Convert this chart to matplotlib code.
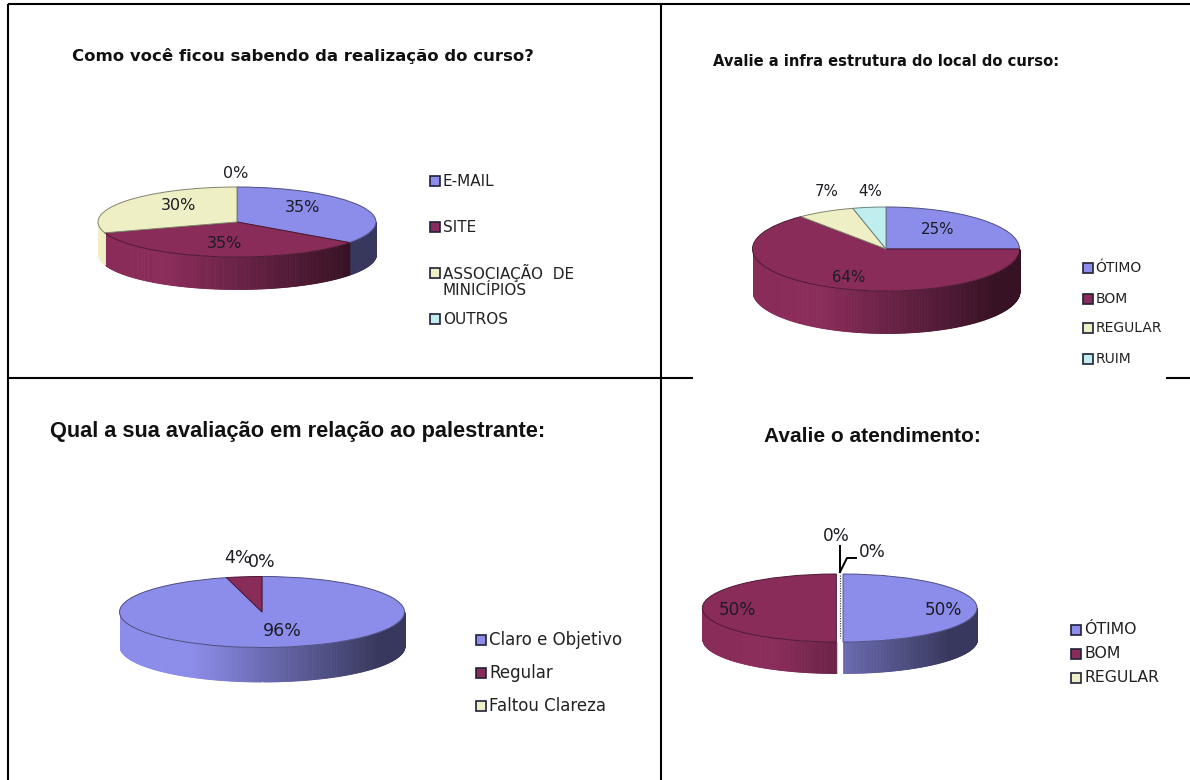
import numpy as np
import matplotlib
matplotlib.use("Agg")
import matplotlib.pyplot as plt
from matplotlib.colors import to_rgb

W, H = 1190, 780

# ---- data ----
titles = ["Como você ficou sabendo da realização do curso?",
          "Avalie a infra estrutura do local do curso:",
          "Qual a sua avaliação em relação ao palestrante:",
          "Avalie o atendimento:"]
values_curso = [35, 35, 30, 0]
values_infra = [25, 64, 7, 4]
values_palestrante = [96, 4, 0]
values_atendimento = [50, 50, 0, 0]
legend_curso = ["E-MAIL", "SITE", "ASSOCIAÇÃO  DE\nMINICÍPIOS", "OUTROS"]
legend_infra = ["ÓTIMO", "BOM", "REGULAR", "RUIM"]
legend_palestrante = ["Claro e Objetivo", "Regular", "Faltou Clareza"]
legend_atendimento = ["ÓTIMO", "BOM", "REGULAR"]

# ---- style / layout (pixels) ----
colors = ["#8C8CEA", "#8A2C5A", "#EFEFC6", "#C0EEEE"]
panels = [
    dict(values=values_curso, legend=legend_curso, cx=237, cy=222, rx=139, ry=35, depth=32, explode=0,
         title=(72, 56, "DejaVu Sans", 11.85),
         labels=[(303, 207), (224, 243), (179, 206), (236, 173)], label_fs=11.5,
         leg_x=435, leg_y=[181, 227, 273, 319], leg_fs=11, leg_ms=7),
    dict(values=values_infra, legend=legend_infra, cx=886, cy=249, rx=133.5, ry=42, depth=42, explode=0,
         title=(713, 62, "DejaVu Sans", 10.6),
         labels=[(938, 229), (849, 277), (827, 192), (870, 192)], label_fs=10.8,
         leg_x=1087.5, leg_y=[268, 299, 328, 359], leg_fs=10, leg_ms=7),
    dict(values=values_palestrante, legend=legend_palestrante, cx=262, cy=612, rx=142.5, ry=35.5, depth=34, explode=0,
         title=(50, 432, "Liberation Sans", 15.7),
         labels=[(282, 631), (238, 558), (262, 562)], label_fs=12.5,
         leg_x=481, leg_y=[640, 673, 706], leg_fs=12, leg_ms=7.5),
    dict(values=values_atendimento, legend=legend_atendimento, cx=839.7, cy=608, rx=134, ry=34, depth=31, explode=0.025,
         title=(764, 436, "Liberation Sans", 15),
         labels=[(943, 610), (737, 610), (836, 536), (872, 552)], label_fs=12.2,
         leg_x=1076, leg_y=[630, 654, 678], leg_fs=11.3, leg_ms=7.5),
]

fig = plt.figure(figsize=(W / 100, H / 100), dpi=100, facecolor="white")


def shade(x):
    """Brightness of the side wall at horizontal position x in -1..1."""
    return float(np.clip(1 - (x + 0.5) / 1.3 * 0.6, 0.4, 1))


def draw_pie(p):
    d = p["depth"] / p["ry"]
    ex = p["explode"]
    rx_full = p["rx"] * (1 + ex)
    left = p["cx"] - rx_full
    bottom = H - (p["cy"] + p["ry"] + p["depth"])
    ax = fig.add_axes([left / W, bottom / H, 2 * rx_full / W, (2 * p["ry"] + p["depth"]) / H])
    vals = p["values"]
    explode = [ex if v > 0 else 0 for v in vals]
    wedges, _ = ax.pie(vals, startangle=90, counterclock=False, colors=colors[:len(vals)],
                       explode=explode, normalize=True,
                       wedgeprops=dict(linewidth=0.7))
    for w, v, c in zip(wedges, vals, colors):
        w.set_zorder(5)
        w.set_edgecolor(tuple(k * 0.55 for k in to_rgb(c)))
        if v == 0:
            w.set_visible(False)
    # side wall, from the same slice angles
    total = sum(vals)
    start = 0.0
    for v, c in zip(vals, colors):
        end = start + 360.0 * v / total
        a0, a1 = max(start, 90), min(end, 270)
        if v > 0 and a1 > a0:
            mid = np.radians((start + end) / 2)
            off = ex * np.sin(mid)
            ang = np.radians(np.linspace(a0, a1, max(int((a1 - a0) * 1.5), 2)))
            rgb = np.array(to_rgb(c))
            for t0, t1 in zip(ang[:-1], ang[1:]):
                xs = np.array([np.sin(t0), np.sin(t1)]) + off
                ys = np.array([np.cos(t0), np.cos(t1)])
                col = tuple(rgb * shade(xs.mean()))
                ax.fill_between(xs, ys, ys - d, color=col, linewidth=0.6, antialiased=False, zorder=2)
        start = end
    ax.set_aspect("auto")
    ax.set_xlim(-1 - ex, 1 + ex)
    ax.set_ylim(-1 - d, 1)
    ax.axis("off")


for p in panels:
    draw_pie(p)

# overlay in pixel coordinates for frame, text and legend keys
ov = fig.add_axes([0, 0, 1, 1], zorder=10)
ov.set_xlim(0, W)
ov.set_ylim(H, 0)
ov.axis("off")
ov.patch.set_alpha(0)

for xs, ys in [((7.5, 7.5), (4, H)), ((7.5, W), (4, 4)), ((661, 661), (4, H)),
               ((7.5, 693), (378, 378)), ((1166, W), (378, 378))]:
    ov.plot(xs, ys, color="black", lw=1.5, solid_capstyle="butt")

for p, title in zip(panels, titles):
    tx, ty, fam, fs = p["title"]
    ov.text(tx, ty, title, family=fam, weight="bold", fontsize=fs, va="center", ha="left", color="#111111")
    for (lx, ly), v in zip(p["labels"], p["values"]):
        ov.text(lx, ly, f"{v}%", family="DejaVu Sans", fontsize=p["label_fs"], ha="center", va="center", color="#1c1c24")
    for name, y, c in zip(p["legend"], p["leg_y"], colors):
        ov.plot([p["leg_x"]], [y], marker="s", ms=p["leg_ms"], mfc=c, mec="#20203a", mew=1.2, ls="none")
        if "\n" in name:
            ov.text(p["leg_x"] + 8, y - 9, name, family="DejaVu Sans", fontsize=p["leg_fs"],
                    va="top", ha="left", color="#222222", linespacing=1.1)
        else:
            ov.text(p["leg_x"] + 8, y, name, family="DejaVu Sans", fontsize=p["leg_fs"],
                    va="center", ha="left", color="#222222")

# zero-slice gap and leader lines of the last panel
ov.plot([839.7, 839.7], [575, 638], color="#444444", lw=0.9, ls=(0, (1, 1)))
ov.plot([840, 840], [546, 572], color="black", lw=1.4)
ov.plot([840, 847, 856], [572, 558, 558], color="black", lw=1.4)

fig.savefig("out.png", dpi=100, facecolor="white")
